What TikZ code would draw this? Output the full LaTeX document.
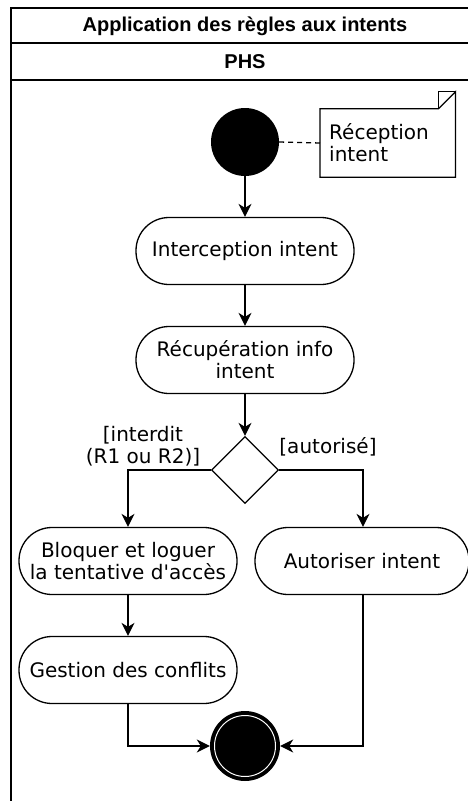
\documentclass[tikz,border=0pt]{standalone}
\usepackage{fontspec}
\setmainfont{DejaVu Sans}[Ligatures=TeXOff]
\newfontfamily\headfont{Liberation Sans}
\usetikzlibrary{shapes.geometric,arrows.meta}
\begin{document}
\begin{tikzpicture}[x=1pt,y=-1pt,
  lw/.style={line width=1.3pt},
  act/.style={draw,lw,rectangle,rounded corners=33pt,minimum width=218pt,minimum height=67pt,align=center,inner sep=0pt},
  txt/.style={font=\fontsize{20}{22}\selectfont},
  hdr/.style={font=\headfont\bfseries\fontsize{20}{24}\selectfont},
  arr/.style={lw,-{Stealth[length=13pt,width=13pt,inset=4pt]}},
]
\useasboundingbox (0,0) rectangle (468,801);
% frame
\draw[line width=1.5pt] (11,820) -- (11,8) -- (480,8);
\draw[line width=1.5pt] (11,43) -- (480,43);
\draw[line width=1.5pt] (11,80) -- (480,80);
\node[hdr] (title) at (245,26) {Application des règles aux intents};
\node[hdr] (lane) at (245,62) {PHS};
% initial
\node[circle,fill=black,minimum size=68pt,inner sep=0pt] (start) at (245,142) {};
% note
\node[txt,anchor=west,minimum width=135pt,minimum height=68pt,text width=117pt,inner xsep=9pt,inner ysep=0pt,align=left] (note) at (320,143) {Réception\\intent};
\draw[lw] (note.north west) -- ([xshift=-17pt]note.north east) -- ([yshift=17pt]note.north east) -- (note.south east) -- (note.south west) -- cycle;
\draw[lw] ([xshift=-17pt]note.north east) -- ([xshift=-17pt,yshift=17pt]note.north east) -- ([yshift=17pt]note.north east);
\draw[lw,dash pattern=on 5pt off 4pt] (start.east) -- (note.west);
% activities
\node[act,txt] (inter) at (245,251) {Interception intent};
\node[act,txt] (recup) at (245,360) {Récupération info\\intent};
\node[draw,lw,diamond,aspect=1,minimum width=67pt,minimum height=67pt,inner sep=0pt] (dec) at (245,470) {};
\node[act,txt] (bloq) at (128,561) {Bloquer et loguer\\la tentative d'accès};
\node[act,txt,minimum width=214pt] (aut) at (362,561) {Autoriser intent};
\node[act,txt] (gest) at (128,670) {Gestion des conflits};
% final
\node[circle,fill=black,minimum size=70pt,inner sep=0pt] (end) at (245,746) {};
\draw[white,line width=1pt] (end.center) circle (30.5pt);
% labels
\node[txt,align=center] (lint) at (143,446) {[interdit\\(R1 ou R2)]};
\node[txt] (laut) at (328,447) {[autorisé]};
% connectors
\draw[arr] (start.south) -- (inter.north);
\draw[arr] (inter.south) -- (recup.north);
\draw[arr] (recup.south) -- (dec.north);
\draw[arr] (dec.west) -| (bloq.north);
\draw[arr] (dec.east) -| ([xshift=1pt]aut.north);
\draw[arr] (bloq.south) -- (gest.north);
\draw[arr] (gest.south) |- (end.west);
\draw[arr] ([xshift=1pt]aut.south) |- (end.east);
\end{tikzpicture}
\end{document}
